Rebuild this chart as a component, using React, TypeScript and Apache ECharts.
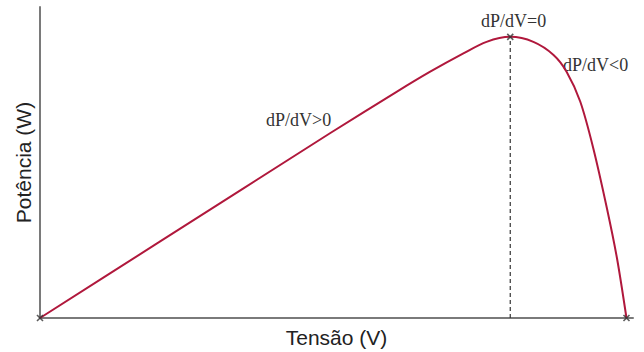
import React, { useEffect, useRef } from "react";
import * as echarts from "echarts";

const voltage = [0, 20, 48.9, 60.2, 65.8, 71.4, 75.3, 79.3, 83.2, 86.6, 88.8, 91.1, 93.3, 95.6, 97.3, 98.9];
const power = [0, 24.3, 59.4, 72.8, 79.2, 85.1, 88.8, 90.4, 88.8, 84.6, 79.2, 69.6, 54.6, 35.3, 19.2, 0];
const peakV = 79.3;
const peakP = 90.4;
const markerPoints = [[0, 0], [79.3, 90.4], [98.9, 0]];
const xTitle = "Tensão (V)";
const yTitle = "Potência (W)";
const labels = ["dP/dV=0", "dP/dV<0", "dP/dV>0"];

export default function App() {
  const ref = useRef<HTMLDivElement>(null);
  useEffect(() => {
    document.body.style.margin = "0";
    const chart = echarts.init(ref.current!, null, { renderer: "svg" });
    const curve = voltage.map((v, i) => [v, power[i]]);
    const serif = "'Liberation Serif', 'DejaVu Serif', serif";
    const sans = "'Liberation Sans', Arial, sans-serif";
    chart.setOption({
      animation: false,
      backgroundColor: "#ffffff",
      grid: { left: 40, top: 7, right: 11, bottom: 34, outerBoundsMode: "none", containLabel: false },
      xAxis: {
        type: "value",
        min: 0,
        max: 100,
        name: xTitle,
        nameLocation: "middle",
        nameGap: 9,
        nameTextStyle: { fontFamily: sans, fontSize: 21, color: "#222", verticalAlign: "top" },
        axisLine: { show: true, lineStyle: { color: "#7a7a7a", width: 2 } },
        axisTick: { show: false },
        axisLabel: { show: false },
        splitLine: { show: false },
      },
      yAxis: {
        type: "value",
        min: 0,
        max: 100,
        name: yTitle,
        nameLocation: "middle",
        nameGap: 6,
        nameTextStyle: { fontFamily: sans, fontSize: 21, color: "#222" },
        axisLine: { show: true, lineStyle: { color: "#7a7a7a", width: 2 } },
        axisTick: { show: false },
        axisLabel: { show: false },
        splitLine: { show: false },
      },
      series: [
        {
          type: "line",
          data: [[peakV, 0], [peakV, peakP]],
          symbol: "none",
          lineStyle: { color: "#333", width: 1.2, type: [4, 3] },
          z: 1,
        },
        {
          type: "line",
          data: curve,
          smooth: 0.3,
          symbol: "none",
          lineStyle: { color: "#b0183c", width: 2 },
          z: 2,
        },
        {
          type: "scatter",
          data: markerPoints,
          symbol: "path://M0,0L10,10M10,0L0,10",
          symbolSize: 6,
          itemStyle: { color: "none", borderColor: "#333", borderWidth: 1.6 },
          z: 3,
        },
      ],
      graphic: [
        { type: "text", left: 481, top: 12, style: { text: labels[0], fontFamily: serif, fontSize: 18, fill: "#333" } },
        { type: "text", left: 563, top: 56, style: { text: labels[1], fontFamily: serif, fontSize: 18, fill: "#333" } },
        { type: "text", left: 266, top: 111, style: { text: labels[2], fontFamily: serif, fontSize: 18, fill: "#333" } },
      ],
    });
    return () => chart.dispose();
  }, []);
  return <div ref={ref} style={{ width: 644, height: 352 }} />;
}
